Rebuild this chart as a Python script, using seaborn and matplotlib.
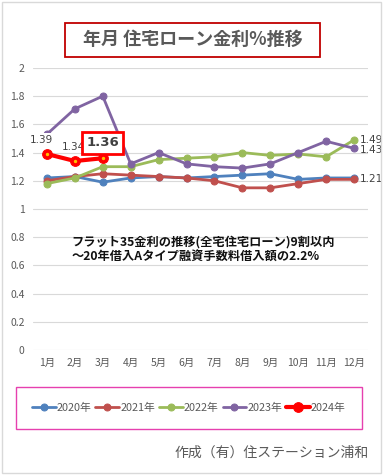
import matplotlib
matplotlib.use("Agg")
import matplotlib.pyplot as plt
import seaborn as sns
import pandas as pd
from matplotlib.patches import Rectangle

months = ["1月", "2月", "3月", "4月", "5月", "6月", "7月", "8月", "9月", "10月", "11月", "12月"]
rate_2020 = [1.22, 1.23, 1.19, 1.22, 1.23, 1.22, 1.23, 1.24, 1.25, 1.21, 1.22, 1.22]
rate_2021 = [1.20, 1.23, 1.25, 1.24, 1.23, 1.22, 1.20, 1.15, 1.15, 1.18, 1.21, 1.21]
rate_2022 = [1.18, 1.22, 1.30, 1.30, 1.35, 1.36, 1.37, 1.40, 1.38, 1.39, 1.37, 1.49]
rate_2023 = [1.53, 1.71, 1.80, 1.32, 1.40, 1.32, 1.30, 1.29, 1.32, 1.40, 1.48, 1.43]
rate_2024 = [1.39, 1.34, 1.36]
y_ticks = [0, 0.2, 0.4, 0.6, 0.8, 1, 1.2, 1.4, 1.6, 1.8, 2]

sns.set_style("white")
plt.rcParams["font.family"] = ["Noto Sans CJK JP", "DejaVu Sans"]

fig = plt.figure(figsize=(3.83, 4.75), dpi=100)
ax = fig.add_axes([0.086, 0.263, 0.875, 0.594])

series = [
    ("2020年", rate_2020, "#4F81BD"),
    ("2021年", rate_2021, "#C0504D"),
    ("2022年", rate_2022, "#9BBB59"),
    ("2023年", rate_2023, "#8064A2"),
]
for name, vals, col in series:
    df = pd.DataFrame({"x": range(len(vals)), "y": vals})
    sns.lineplot(data=df, x="x", y="y", ax=ax, color=col, linewidth=2.0,
                 marker="o", markersize=5, markeredgecolor=col, label=name)

df24 = pd.DataFrame({"x": range(len(rate_2024)), "y": rate_2024})
sns.lineplot(data=df24, x="x", y="y", ax=ax, color="#FF0000", linewidth=3.0,
             marker="o", markersize=7, markerfacecolor="#FF0000",
             markeredgecolor="#FF0000", label="2024年")
ax.scatter(range(len(rate_2024)), rate_2024, s=2, color="#FFC000", zorder=5)

ax.set_xlim(-0.5, 11.5)
ax.set_ylim(0, 2)
ax.set_yticks(y_ticks)
ax.set_yticklabels([f"{v:g}" for v in y_ticks])
ax.set_xticks(range(12))
ax.set_xticklabels(months)
ax.set_xlabel("")
ax.set_ylabel("")
ax.grid(axis="y", color="#D9D9D9", linewidth=0.8)
ax.set_axisbelow(True)
for s in ax.spines.values():
    s.set_visible(False)
ax.tick_params(axis="both", length=0, labelsize=7.5, colors="#595959", pad=6)
ax.get_legend().remove()

# data labels
lab_kw = dict(textcoords="offset points", fontsize=7.5, color="#404040",
              family="DejaVu Sans", zorder=10)
ax.annotate(f"{rate_2024[0]:.2f}", (0, rate_2024[0]), xytext=(-4, 10), ha="center",
            va="center", **lab_kw, bbox=dict(facecolor="white", edgecolor="none", pad=1.5))
ax.annotate(f"{rate_2024[1]:.2f}", (1, rate_2024[1]), xytext=(-1, 10), ha="center",
            va="center", **lab_kw)
ax.annotate(f"{rate_2024[2]:.2f}", (2, rate_2024[2]), xytext=(0, 11), ha="center", va="center",
            textcoords="offset points", fontsize=9.5, fontweight="bold", color="#404040",
            family="DejaVu Sans", zorder=10,
            bbox=dict(facecolor="white", edgecolor="#FF0000", linewidth=2, pad=3))
ax.annotate(f"{rate_2022[-1]:.2f}", (11, rate_2022[-1]), xytext=(4, 0), ha="left", va="center", **lab_kw)
ax.annotate(f"{rate_2023[-1]:.2f}", (11, rate_2023[-1]), xytext=(4, -1), ha="left", va="center", **lab_kw)
ax.annotate(f"{rate_2021[-1]:.2f}", (11, rate_2021[-1]), xytext=(4, 0), ha="left", va="center", **lab_kw)

# note inside plot
ax.text(0.115, 0.405, "フラット35金利の推移(全宅住宅ローン)9割以内\n～20年借入Aタイプ融資手数料借入額の2.2%",
        transform=ax.transAxes, fontsize=8.8, fontweight="bold", color="#111111",
        va="top", ha="left", linespacing=1.2)

# title with its own box
fig.patches.append(Rectangle((0.170, 0.880), 0.666, 0.072, transform=fig.transFigure,
                             fill=False, edgecolor="#C00000", linewidth=1.3))
fig.text(0.503, 0.916, "年月 住宅ローン金利%推移", ha="center", va="center",
         fontsize=13, fontweight="bold", color="#595959")

# legend
handles, labels = ax.get_legend_handles_labels()
leg = fig.legend(handles, labels, loc="center", bbox_to_anchor=(0.493, 0.141),
                 ncol=5, fontsize=7.8, frameon=True, fancybox=False,
                 handlelength=2.2, handletextpad=0.1, columnspacing=0.35,
                 borderpad=1.5, borderaxespad=0, labelcolor="#595959")
leg.get_frame().set_edgecolor("#E0109B")
leg.get_frame().set_linewidth(1.0)

# footer
fig.text(0.962, 0.046, "作成（有）住ステーション浦和", ha="right", va="center",
         fontsize=10, color="#595959")

fig.patches.append(Rectangle((0.004, 0.004), 0.99, 0.992, transform=fig.transFigure,
                             fill=False, edgecolor="#D9D9D9", linewidth=1))

fig.savefig("out.png", dpi=100)
